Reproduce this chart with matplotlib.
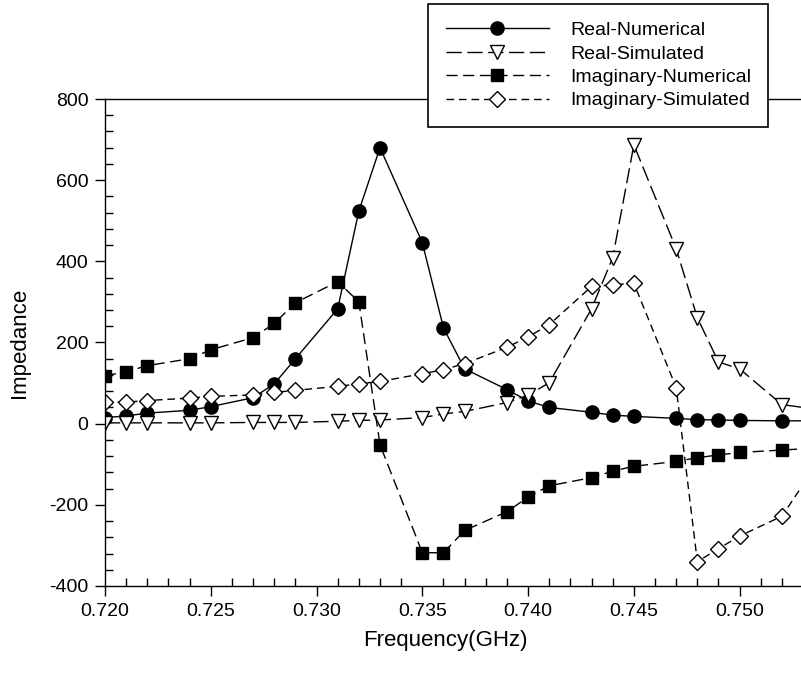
#!/usr/bin/env python3
"""
plot.py -- real / imaginary impedance vs frequency, numerical vs simulated.
"""
import matplotlib
matplotlib.use("Agg")
import matplotlib.pyplot as plt
from matplotlib.ticker import MultipleLocator, FormatStrFormatter

plt.rcParams["font.family"] = ["Liberation Sans", "DejaVu Sans"]
plt.rcParams["axes.unicode_minus"] = False

# frequency samples (GHz)
freq = [0.720, 0.721, 0.722, 0.724, 0.725, 0.727, 0.728, 0.729, 0.731, 0.732,
        0.733, 0.735, 0.736, 0.737, 0.739, 0.740, 0.741, 0.743, 0.744, 0.745,
        0.747, 0.748, 0.749, 0.750, 0.752, 0.753]

real_num = [15, 19, 26, 33, 42, 64, 98, 160, 283, 524,
            680, 446, 236, 135, 84, 56, 40, 28, 21, 18,
            13, 10, 9, 8, 7, 7]
real_sim = [2, 2, 2, 2, 2, 3, 3, 3, 6, 8,
            9, 15, 24, 30, 52, 70, 101, 283, 409, 687,
            431, 261, 152, 135, 47, 40]
imag_num = [118, 128, 143, 160, 182, 212, 247, 298, 350, 300,
            -52, -318, -318, -263, -217, -181, -153, -133, -117, -105,
            -93, -84, -77, -71, -65, -62]
imag_sim = [53, 53, 57, 63, 67, 71, 77, 82, 92, 98,
            104, 123, 133, 148, 188, 214, 244, 338, 342, 346,
            89, -340, -308, -277, -228, -150]

labels = ["Real-Numerical", "Real-Simulated",
          "Imaginary-Numerical", "Imaginary-Simulated"]


def main() -> None:
    fig = plt.figure(figsize=(8.01, 6.75), dpi=100)
    ax = fig.add_axes([105 / 801, 89 / 675, 1 - 105 / 801, 487 / 675])

    # last sample lies just past the frame: line runs to the edge, no marker
    every = slice(0, len(freq) - 1)
    kw = dict(color="black", linewidth=1.0, markeredgewidth=1.0, markevery=every)
    ax.plot(freq, real_num, "-", marker="o", markersize=9.5,
            markerfacecolor="black", label=labels[0], **kw)
    ax.plot(freq, real_sim, marker="v", markersize=9.5, dashes=(11, 4),
            markerfacecolor="white", label=labels[1], **kw)
    ax.plot(freq, imag_num, marker="s", markersize=8.5, dashes=(8, 4),
            markerfacecolor="black", label=labels[2], **kw)
    ax.plot(freq, imag_sim, marker="D", markersize=8.5, dashes=(5.5, 3.5),
            markerfacecolor="white", label=labels[3], **kw)

    ax.set_xlim(0.720, 0.7529)
    ax.set_ylim(-400, 800)
    ax.xaxis.set_major_locator(MultipleLocator(0.005))
    ax.xaxis.set_minor_locator(MultipleLocator(0.001))
    ax.yaxis.set_major_locator(MultipleLocator(200))
    ax.yaxis.set_minor_locator(MultipleLocator(40))
    ax.xaxis.set_major_formatter(FormatStrFormatter("%.3f"))
    ax.tick_params(which="major", direction="out", length=7, width=1.0,
                   labelsize=14, pad=5)
    ax.tick_params(which="minor", direction="in", length=6, width=1.0)
    ax.tick_params(top=False, right=False, which="both")
    ax.spines["right"].set_visible(False)
    for s in ("left", "bottom", "top"):
        ax.spines[s].set_linewidth(1.0)

    ax.set_xlabel("Frequency(GHz)", fontsize=16)
    ax.set_ylabel("Impedance", fontsize=16)
    ax.xaxis.set_label_coords((445 - 105) / 696, -0.090)
    ax.yaxis.set_label_coords(-0.108, 0.5)

    leg = fig.legend(loc="upper left", bbox_to_anchor=(428 / 801, 1 - 4 / 675),
                     borderaxespad=0, fontsize=14, handlelength=5.3,
                     handletextpad=1.1, labelspacing=0.3, borderpad=0.9,
                     fancybox=False, framealpha=1, edgecolor="black")
    leg.get_frame().set_linewidth(1.2)

    fig.savefig("out.png", dpi=100)
    plt.close(fig)


if __name__ == "__main__":
    main()
